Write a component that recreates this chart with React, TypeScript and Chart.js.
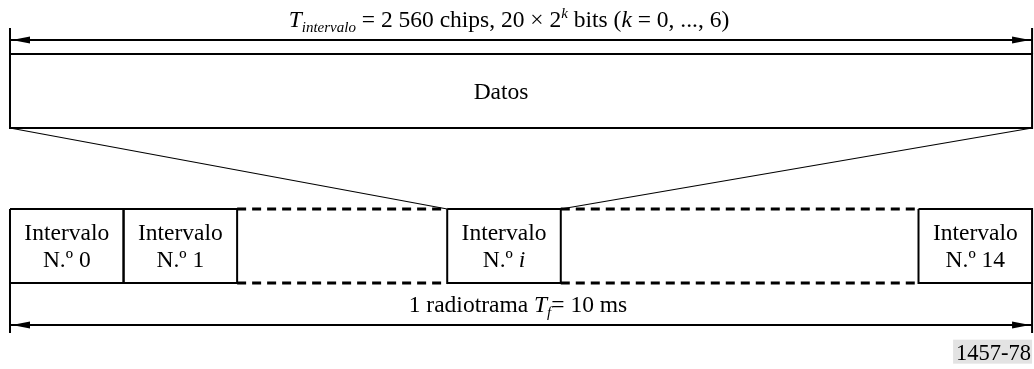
import React, { useEffect, useRef } from "react";
import { Chart, registerables } from "chart.js";

Chart.register(...registerables);

// Coordinate system: x in slot-width units (frame spans 0..9), y in row-height units (top = 0, reversed)
const X_MIN = -0.088;
const X_MAX = 9.017;
const Y_MIN = 0;
const Y_MAX = 4.986;

const frameStart = 0;
const frameEnd = 9;

const slotNames = ["Intervalo", "Intervalo", "Intervalo", "Intervalo"];
const slotNumbers = ["0", "1", "i", "14"];
const slotNumberItalic = [false, false, true, false];
const slotStarts = [0, 1, 3.85, 8];
const slotWidth = 1;
const dashedGaps = [
  [2, 3.85],
  [4.85, 8],
];

const dataRow = [0.73, 1.73];
const slotRow = [2.824, 3.824];
const topArrowLevel = 0.541;
const topTickLevel = 0.378;
const bottomArrowLevel = 4.392;
const bottomTickLevel = 4.5;

const titleBaseline = 0.365;
const titleCenter = 4.394;
const datosBaseline = 1.338;
const datosCenter = 4.324;
const slotLineBaselines = [3.243, 3.608];
const frameLabelBaseline = 4.216;
const frameLabelCenter = 4.473;
const figIdBaseline = 4.86;

const dataLabel = "Datos";
const figId = "1457-78";

type Run = { t: string; italic?: boolean; size?: number; dy?: number };

const FONT_FAMILY = '"Liberation Serif", "Times New Roman", serif';
const BASE = 23.5;

const titleRuns: Run[] = [
  { t: "T", italic: true },
  { t: "intervalo", italic: true, size: 15, dy: 5 },
  { t: " = 2 560 chips, 20 × 2" },
  { t: "k", italic: true, size: 15, dy: -9 },
  { t: " bits (" },
  { t: "k", italic: true },
  { t: " = 0, ..., 6)" },
];

const frameRuns: Run[] = [
  { t: "1 radiotrama " },
  { t: "T", italic: true },
  { t: "f", italic: true, size: 15, dy: 5 },
  { t: "= 10 ms" },
];

function rect(x0: number, x1: number, y0: number, y1: number) {
  return [
    { x: x0, y: y0 },
    { x: x1, y: y0 },
    { x: x1, y: y1 },
    { x: x0, y: y1 },
    { x: x0, y: y0 },
  ];
}

function lineDs(data: { x: number; y: number }[], width: number, dash: number[] = []) {
  return {
    type: "line" as const,
    data,
    showLine: true,
    borderColor: "#000",
    backgroundColor: "#000",
    borderWidth: width,
    borderDash: dash,
    pointRadius: 0,
    tension: 0,
    fill: false,
    clip: false as any,
    borderCapStyle: "butt" as const,
    borderJoinStyle: "miter" as const,
  };
}

function drawRuns(ctx: CanvasRenderingContext2D, runs: Run[], cx: number, baseline: number) {
  const widths = runs.map((r) => {
    ctx.font = `${r.italic ? "italic " : ""}${r.size || BASE}px ${FONT_FAMILY}`;
    return ctx.measureText(r.t).width;
  });
  const total = widths.reduce((a, b) => a + b, 0);
  let x = cx - total / 2;
  ctx.textAlign = "left";
  ctx.textBaseline = "alphabetic";
  runs.forEach((r, i) => {
    ctx.font = `${r.italic ? "italic " : ""}${r.size || BASE}px ${FONT_FAMILY}`;
    ctx.fillText(r.t, x, baseline + (r.dy || 0));
    x += widths[i];
  });
}

function arrowHead(ctx: CanvasRenderingContext2D, tipX: number, y: number, dir: number) {
  const len = 18;
  const half = 3.5;
  ctx.beginPath();
  ctx.moveTo(tipX, y);
  ctx.lineTo(tipX - dir * len, y - half);
  ctx.lineTo(tipX - dir * len, y + half);
  ctx.closePath();
  ctx.fill();
}

const annotationPlugin = {
  id: "diagramText",
  afterDatasetsDraw(chart: any) {
    const ctx: CanvasRenderingContext2D = chart.ctx;
    const xs = chart.scales.x;
    const ys = chart.scales.y;
    const px = (v: number) => xs.getPixelForValue(v);
    const py = (v: number) => ys.getPixelForValue(v);
    ctx.save();
    ctx.fillStyle = "#000";

    // arrowheads
    arrowHead(ctx, px(frameStart) + 2, py(topArrowLevel), -1);
    arrowHead(ctx, px(frameEnd) - 2, py(topArrowLevel), 1);
    arrowHead(ctx, px(frameStart) + 2, py(bottomArrowLevel), -1);
    arrowHead(ctx, px(frameEnd) - 2, py(bottomArrowLevel), 1);

    drawRuns(ctx, titleRuns, px(titleCenter), py(titleBaseline));
    drawRuns(ctx, [{ t: dataLabel }], px(datosCenter), py(datosBaseline));
    drawRuns(ctx, frameRuns, px(frameLabelCenter), py(frameLabelBaseline));

    slotStarts.forEach((s, i) => {
      const cx = px(s + slotWidth / 2);
      drawRuns(ctx, [{ t: slotNames[i] }], cx, py(slotLineBaselines[0]));
      drawRuns(
        ctx,
        [{ t: "N.º " }, { t: slotNumbers[i], italic: slotNumberItalic[i] }],
        cx,
        py(slotLineBaselines[1])
      );
    });

    // figure id with grey background
    ctx.font = `22.5px ${FONT_FAMILY}`;
    const w = ctx.measureText(figId).width;
    const right = px(frameEnd);
    const by = py(figIdBaseline);
    ctx.fillStyle = "#e3e3e3";
    ctx.fillRect(right - w - 4, by - 20, w + 4, 24);
    ctx.fillStyle = "#000";
    ctx.textAlign = "right";
    ctx.textBaseline = "alphabetic";
    ctx.fillText(figId, right - 1, by);
    ctx.restore();
  },
};

export default function App() {
  const ref = useRef<HTMLCanvasElement | null>(null);

  useEffect(() => {
    if (!ref.current) return;
    const datasets: any[] = [];
    // Data block
    datasets.push(lineDs(rect(frameStart, frameEnd, dataRow[0], dataRow[1]), 2));
    // Expansion lines
    const iStart = slotStarts[2];
    datasets.push(
      lineDs(
        [
          { x: frameStart, y: dataRow[1] },
          { x: iStart, y: slotRow[0] },
        ],
        1.2
      )
    );
    datasets.push(
      lineDs(
        [
          { x: frameEnd, y: dataRow[1] },
          { x: iStart + slotWidth, y: slotRow[0] },
        ],
        1.2
      )
    );
    // Slots
    slotStarts.forEach((s) => {
      datasets.push(lineDs(rect(s, s + slotWidth, slotRow[0], slotRow[1]), 2));
    });
    // Dashed continuation
    dashedGaps.forEach(([a, b]) => {
      datasets.push(lineDs([{ x: a, y: slotRow[0] }, { x: b, y: slotRow[0] }], 3, [9, 6]));
      datasets.push(lineDs([{ x: a, y: slotRow[1] }, { x: b, y: slotRow[1] }], 3, [9, 6]));
    });
    // Arrow shafts
    datasets.push(lineDs([{ x: frameStart, y: topArrowLevel }, { x: frameEnd, y: topArrowLevel }], 2));
    datasets.push(lineDs([{ x: frameStart, y: bottomArrowLevel }, { x: frameEnd, y: bottomArrowLevel }], 2));
    // End ticks
    datasets.push(lineDs([{ x: frameStart, y: topTickLevel }, { x: frameStart, y: dataRow[0] }], 2));
    datasets.push(lineDs([{ x: frameEnd, y: topTickLevel }, { x: frameEnd, y: dataRow[0] }], 2));
    datasets.push(lineDs([{ x: frameStart, y: slotRow[1] }, { x: frameStart, y: bottomTickLevel }], 2));
    datasets.push(lineDs([{ x: frameEnd, y: slotRow[1] }, { x: frameEnd, y: bottomTickLevel }], 2));

    const chart = new Chart(ref.current, {
      type: "scatter",
      data: { datasets },
      options: {
        animation: false,
        responsive: false,
        maintainAspectRatio: false,
        layout: { padding: 0 },
        plugins: { legend: { display: false }, tooltip: { enabled: false }, title: { display: false } },
        scales: {
          x: { type: "linear", min: X_MIN, max: X_MAX, display: false },
          y: { type: "linear", min: Y_MIN, max: Y_MAX, reverse: true, display: false },
        },
      },
      plugins: [annotationPlugin],
    });
    return () => chart.destroy();
  }, []);

  return (
    <div style={{ position: "absolute", left: 0, top: 0, width: 1034, height: 369, background: "#fff" }}>
      <canvas ref={ref} width={1034} height={369} style={{ width: 1034, height: 369 }} />
    </div>
  );
}
